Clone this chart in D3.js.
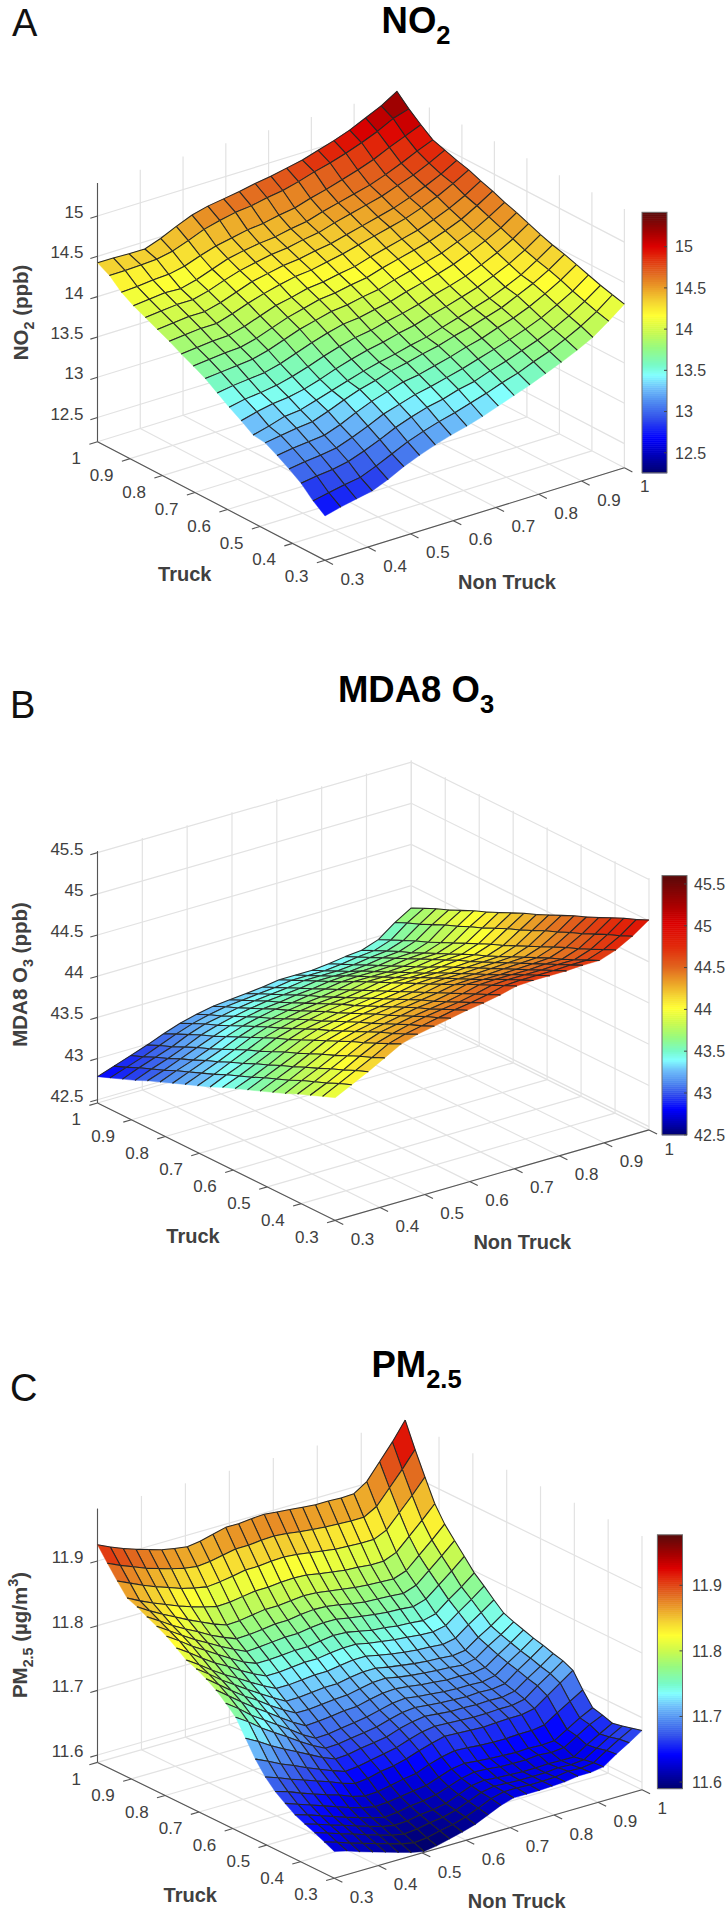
<!DOCTYPE html>
<html><head><meta charset="utf-8">
<script src="https://cdn.jsdelivr.net/npm/d3@7/dist/d3.min.js"></script>
<style>html,body{margin:0;padding:0;background:#fff}svg{display:block}text{font-family:"Liberation Sans",Arial,sans-serif}</style>
</head><body><svg id="c" width="728" height="1911"></svg>
<script>
// rows run Truck 0.3→1, columns run Non Truck 0.3→1
const no2Values=[
[12.75,12.80,12.84,12.88,12.96,13.06,13.14,13.21,13.27,13.32,13.38,13.45,13.52,13.59,13.67,13.75,13.84,13.94,14.08,14.23],
[12.86,12.90,12.94,12.97,13.05,13.14,13.23,13.30,13.36,13.41,13.47,13.53,13.60,13.66,13.74,13.81,13.90,14.00,14.12,14.27],
[13.00,13.03,13.05,13.09,13.16,13.24,13.33,13.40,13.46,13.50,13.56,13.60,13.67,13.73,13.80,13.87,13.95,14.05,14.17,14.31],
[13.10,13.13,13.15,13.18,13.25,13.33,13.42,13.48,13.54,13.58,13.63,13.68,13.74,13.80,13.86,13.93,14.01,14.11,14.22,14.36],
[13.19,13.22,13.24,13.26,13.33,13.42,13.50,13.56,13.62,13.65,13.70,13.75,13.81,13.86,13.93,13.99,14.07,14.17,14.28,14.41],
[13.27,13.30,13.33,13.35,13.42,13.50,13.57,13.62,13.68,13.72,13.77,13.81,13.87,13.92,13.98,14.04,14.13,14.22,14.33,14.46],
[13.29,13.34,13.40,13.42,13.48,13.54,13.60,13.66,13.71,13.75,13.80,13.84,13.90,13.96,14.02,14.08,14.16,14.25,14.37,14.50],
[13.39,13.44,13.48,13.50,13.54,13.60,13.67,13.73,13.78,13.82,13.87,13.91,13.97,14.02,14.08,14.14,14.22,14.31,14.42,14.55],
[13.48,13.52,13.54,13.57,13.62,13.68,13.75,13.81,13.86,13.89,13.94,13.98,14.03,14.09,14.14,14.20,14.28,14.37,14.48,14.61],
[13.58,13.61,13.63,13.65,13.70,13.77,13.84,13.90,13.95,13.97,14.01,14.05,14.11,14.16,14.21,14.27,14.35,14.44,14.54,14.67],
[13.68,13.70,13.72,13.74,13.79,13.86,13.93,13.98,14.03,14.05,14.09,14.12,14.18,14.23,14.28,14.33,14.41,14.49,14.60,14.72],
[13.76,13.78,13.80,13.81,13.86,13.93,14.00,14.05,14.10,14.12,14.16,14.19,14.25,14.30,14.35,14.40,14.47,14.55,14.66,14.78],
[13.83,13.85,13.87,13.88,13.93,14.00,14.07,14.11,14.16,14.18,14.22,14.25,14.31,14.36,14.41,14.46,14.53,14.61,14.71,14.83],
[13.91,13.93,13.95,13.95,14.01,14.08,14.14,14.19,14.23,14.25,14.29,14.33,14.38,14.43,14.48,14.53,14.60,14.68,14.78,14.89],
[13.98,14.00,14.02,14.02,14.07,14.14,14.21,14.25,14.29,14.31,14.35,14.38,14.43,14.48,14.53,14.58,14.65,14.73,14.82,14.93],
[14.05,14.07,14.09,14.09,14.14,14.21,14.27,14.31,14.35,14.37,14.41,14.44,14.50,14.55,14.60,14.65,14.72,14.79,14.88,14.98],
[14.12,14.14,14.16,14.15,14.20,14.27,14.34,14.38,14.41,14.43,14.47,14.50,14.56,14.61,14.66,14.71,14.78,14.86,14.95,15.03],
[14.21,14.22,14.24,14.25,14.29,14.36,14.42,14.46,14.50,14.52,14.56,14.59,14.65,14.70,14.76,14.82,14.89,14.98,15.06,15.14],
[14.34,14.34,14.35,14.36,14.40,14.47,14.55,14.60,14.64,14.66,14.70,14.73,14.78,14.84,14.89,14.95,15.02,15.10,15.20,15.26],
[14.42,14.42,14.41,14.41,14.48,14.57,14.65,14.70,14.73,14.76,14.80,14.83,14.87,14.91,14.97,15.03,15.10,15.19,15.28,15.40]];
const o3Values=[
[43.95,44.05,44.15,44.26,44.37,44.43,44.47,44.51,44.55,44.58,44.62,44.67,44.68,44.68,44.68,44.69,44.69,44.76,44.87,45.01],
[43.89,43.99,44.09,44.19,44.30,44.36,44.40,44.44,44.48,44.51,44.55,44.60,44.61,44.61,44.61,44.62,44.62,44.69,44.80,44.94],
[43.83,43.92,44.02,44.13,44.23,44.29,44.34,44.38,44.41,44.44,44.48,44.53,44.54,44.54,44.54,44.55,44.55,44.62,44.74,44.88],
[43.77,43.86,43.96,44.06,44.16,44.23,44.27,44.31,44.34,44.37,44.41,44.46,44.47,44.47,44.47,44.48,44.48,44.55,44.67,44.81],
[43.70,43.80,43.89,43.99,44.10,44.16,44.20,44.24,44.28,44.30,44.34,44.39,44.39,44.39,44.40,44.41,44.42,44.49,44.60,44.74],
[43.64,43.73,43.83,43.93,44.03,44.09,44.13,44.17,44.21,44.24,44.27,44.31,44.32,44.32,44.33,44.34,44.35,44.42,44.54,44.67],
[43.58,43.67,43.76,43.86,43.96,44.02,44.07,44.11,44.14,44.17,44.20,44.24,44.25,44.25,44.26,44.27,44.28,44.35,44.47,44.61],
[43.52,43.61,43.70,43.79,43.89,43.95,44.00,44.04,44.07,44.10,44.13,44.17,44.18,44.18,44.19,44.20,44.21,44.28,44.41,44.54],
[43.46,43.54,43.63,43.73,43.82,43.89,43.93,43.97,44.00,44.03,44.06,44.10,44.11,44.11,44.12,44.13,44.14,44.21,44.34,44.47],
[43.40,43.48,43.57,43.66,43.75,43.82,43.86,43.90,43.93,43.96,43.99,44.03,44.04,44.04,44.05,44.06,44.07,44.14,44.27,44.40],
[43.33,43.42,43.50,43.59,43.69,43.75,43.80,43.84,43.87,43.89,43.92,43.96,43.96,43.96,43.98,44.00,44.01,44.08,44.21,44.34],
[43.27,43.35,43.44,43.53,43.62,43.68,43.73,43.77,43.80,43.82,43.85,43.89,43.89,43.89,43.90,43.93,43.94,44.01,44.14,44.27],
[43.21,43.29,43.37,43.46,43.55,43.62,43.66,43.70,43.73,43.75,43.78,43.82,43.82,43.82,43.83,43.86,43.87,43.94,44.07,44.20],
[43.15,43.23,43.31,43.39,43.48,43.55,43.59,43.63,43.66,43.68,43.71,43.75,43.75,43.75,43.76,43.79,43.80,43.87,44.01,44.13],
[43.09,43.17,43.24,43.32,43.41,43.48,43.53,43.57,43.59,43.62,43.64,43.67,43.68,43.68,43.69,43.72,43.73,43.80,43.94,44.07],
[43.03,43.10,43.18,43.26,43.34,43.41,43.46,43.50,43.52,43.55,43.57,43.60,43.61,43.61,43.62,43.65,43.66,43.73,43.88,44.00],
[42.96,43.04,43.11,43.19,43.28,43.34,43.39,43.43,43.46,43.48,43.50,43.53,43.53,43.53,43.55,43.58,43.60,43.67,43.81,43.93],
[42.90,42.98,43.05,43.12,43.21,43.28,43.32,43.36,43.39,43.41,43.43,43.46,43.46,43.46,43.48,43.51,43.53,43.60,43.74,43.87],
[42.84,42.91,42.98,43.06,43.14,43.21,43.26,43.30,43.32,43.34,43.36,43.39,43.39,43.39,43.41,43.44,43.46,43.53,43.68,43.80],
[42.78,42.85,42.92,42.99,43.07,43.14,43.19,43.23,43.25,43.27,43.29,43.32,43.32,43.32,43.34,43.37,43.39,43.46,43.61,43.73]];
const pmValues=[
[11.630,11.625,11.618,11.612,11.606,11.600,11.594,11.590,11.593,11.598,11.603,11.609,11.618,11.627,11.633,11.633,11.633,11.634,11.635,11.638,11.638,11.641,11.655,11.667,11.680],
[11.637,11.631,11.624,11.618,11.612,11.606,11.600,11.596,11.598,11.603,11.607,11.613,11.621,11.630,11.635,11.635,11.634,11.634,11.635,11.638,11.637,11.640,11.653,11.665,11.676],
[11.644,11.638,11.631,11.625,11.618,11.612,11.606,11.602,11.604,11.608,11.611,11.616,11.624,11.632,11.636,11.635,11.634,11.634,11.634,11.636,11.635,11.637,11.649,11.661,11.672],
[11.650,11.644,11.637,11.631,11.624,11.618,11.612,11.608,11.609,11.613,11.615,11.619,11.627,11.635,11.638,11.636,11.635,11.634,11.634,11.635,11.634,11.634,11.647,11.658,11.669],
[11.657,11.651,11.644,11.637,11.630,11.624,11.618,11.613,11.615,11.619,11.621,11.625,11.632,11.639,11.643,11.642,11.640,11.639,11.639,11.641,11.639,11.641,11.653,11.665,11.674],
[11.667,11.660,11.653,11.646,11.639,11.632,11.626,11.622,11.623,11.626,11.629,11.632,11.639,11.646,11.649,11.647,11.645,11.644,11.643,11.644,11.643,11.644,11.656,11.668,11.678],
[11.678,11.672,11.664,11.657,11.650,11.644,11.636,11.631,11.632,11.636,11.640,11.643,11.651,11.657,11.661,11.660,11.658,11.657,11.657,11.658,11.658,11.661,11.674,11.686,11.698],
[11.693,11.686,11.678,11.671,11.664,11.657,11.649,11.643,11.645,11.650,11.653,11.658,11.665,11.671,11.676,11.675,11.674,11.673,11.674,11.675,11.675,11.679,11.693,11.707,11.721],
[11.713,11.704,11.694,11.686,11.677,11.669,11.661,11.654,11.656,11.660,11.664,11.668,11.675,11.681,11.684,11.683,11.682,11.681,11.681,11.682,11.682,11.686,11.701,11.714,11.728],
[11.738,11.727,11.715,11.704,11.694,11.684,11.674,11.666,11.667,11.671,11.674,11.677,11.684,11.689,11.692,11.690,11.688,11.688,11.687,11.688,11.687,11.691,11.705,11.718,11.732],
[11.763,11.750,11.735,11.722,11.710,11.697,11.685,11.675,11.676,11.679,11.682,11.685,11.691,11.696,11.698,11.696,11.694,11.693,11.692,11.693,11.692,11.695,11.710,11.723,11.737],
[11.777,11.763,11.747,11.734,11.721,11.708,11.694,11.683,11.684,11.687,11.690,11.693,11.698,11.703,11.705,11.702,11.700,11.698,11.697,11.697,11.696,11.700,11.714,11.727,11.741],
[11.790,11.775,11.760,11.746,11.733,11.719,11.706,11.695,11.696,11.698,11.701,11.702,11.707,11.711,11.712,11.710,11.707,11.705,11.703,11.703,11.702,11.705,11.719,11.732,11.746],
[11.800,11.785,11.770,11.756,11.744,11.730,11.718,11.707,11.707,11.709,11.711,11.712,11.716,11.720,11.721,11.717,11.714,11.712,11.710,11.709,11.707,11.711,11.725,11.737,11.751],
[11.808,11.794,11.779,11.766,11.753,11.741,11.729,11.718,11.718,11.720,11.722,11.722,11.726,11.729,11.729,11.725,11.722,11.719,11.717,11.716,11.714,11.717,11.731,11.743,11.757],
[11.814,11.801,11.787,11.774,11.763,11.751,11.740,11.730,11.730,11.732,11.734,11.734,11.737,11.740,11.740,11.736,11.732,11.729,11.727,11.726,11.724,11.728,11.743,11.756,11.770],
[11.825,11.812,11.798,11.785,11.774,11.762,11.751,11.742,11.742,11.744,11.746,11.746,11.749,11.751,11.751,11.747,11.744,11.741,11.739,11.737,11.736,11.740,11.755,11.769,11.784],
[11.836,11.823,11.809,11.797,11.785,11.773,11.762,11.754,11.754,11.755,11.757,11.757,11.760,11.763,11.762,11.758,11.754,11.752,11.749,11.748,11.746,11.751,11.767,11.781,11.797],
[11.844,11.831,11.818,11.806,11.795,11.784,11.774,11.765,11.766,11.768,11.770,11.770,11.773,11.775,11.775,11.771,11.768,11.765,11.763,11.762,11.760,11.766,11.782,11.798,11.815],
[11.851,11.839,11.826,11.815,11.805,11.794,11.785,11.777,11.778,11.780,11.783,11.783,11.786,11.788,11.787,11.784,11.780,11.777,11.776,11.775,11.773,11.780,11.797,11.814,11.832],
[11.859,11.847,11.836,11.826,11.816,11.807,11.798,11.791,11.792,11.795,11.798,11.798,11.800,11.802,11.801,11.798,11.795,11.792,11.790,11.789,11.788,11.795,11.813,11.831,11.850],
[11.865,11.855,11.846,11.838,11.830,11.823,11.817,11.812,11.813,11.816,11.819,11.819,11.821,11.822,11.821,11.817,11.814,11.811,11.810,11.808,11.808,11.816,11.835,11.854,11.874],
[11.884,11.875,11.866,11.858,11.851,11.844,11.839,11.835,11.837,11.840,11.844,11.844,11.846,11.847,11.845,11.842,11.839,11.836,11.835,11.834,11.834,11.843,11.864,11.885,11.908],
[11.904,11.895,11.887,11.879,11.873,11.867,11.862,11.859,11.861,11.865,11.869,11.869,11.871,11.872,11.870,11.867,11.865,11.863,11.862,11.861,11.861,11.872,11.895,11.918,11.943],
[11.925,11.916,11.908,11.901,11.895,11.889,11.885,11.882,11.885,11.890,11.895,11.895,11.897,11.898,11.896,11.894,11.892,11.890,11.890,11.889,11.890,11.903,11.928,11.953,11.981]];
const axisTicks=[0.3,0.4,0.5,0.6,0.7,0.8,0.9,1];
const no2Ticks=[12.5,13,13.5,14,14.5,15];
const o3Ticks=[42.5,43,43.5,44,44.5,45,45.5];
const pmTicks=[11.6,11.7,11.8,11.9];
const cmapPos=[0,.057,.134,.21,.274,.325,.376,.414,.48,.54,.605,.655,.71,.77,.83,.87,.92,1];
const cmapPosO3=[0,.04,.10,.16,.205,.25,.29,.325,.375,.43,.49,.535,.59,.65,.73,.817,.885,1];
const cmapCol=["#00006e","#0000aa","#0000ff","#3250eb","#508cf0","#6ebefa","#82ffff","#78fac8","#96fa82","#c8fa50","#ffff32","#f5d732","#eba028","#e1641e","#e1280a","#dc0000","#aa0000","#5a0a0a"];
const panels=[
{letter:"A",lx:12,ly:36,title:[["NO",0],["2",1]],tx:416,ty:33,vals:no2Values,zt:no2Ticks,cpos:cmapPos,L:[97.5,441.7],B:[325,560.3],R:[624.4,467.8],H:258.7,z:[12.2,15.41],
 bar:[642,667,212.3,472.8],barD:[12.257,15.417],barX:675,zlab:[["NO",0],["2",1],[" (ppb)",0]],zl:[28,312.4],trk:[184.8,574],non:[507,581.3]},
{letter:"B",lx:10,ly:718,title:[["MDA8 O",0],["3",1]],tx:416,ty:702,vals:o3Values,zt:o3Ticks,cpos:cmapPosO3,L:[97.5,1103],B:[335.2,1220.4],R:[649,1129.9],H:252,z:[42.46,45.52],
 bar:[662,687,875.6,1134.8],barD:[42.5,45.6],barX:694,zlab:[["MDA8 O",0],["3",1],[" (ppb)",0]],zl:[26.5,974.5],trk:[193,1235.4],non:[522.3,1242.2]},
{letter:"C",lx:10,ly:1401,title:[["PM",0],["2.5",1]],tx:416.5,ty:1377,vals:pmValues,zt:pmTicks,cpos:cmapPos,L:[97.5,1762.4],B:[334.3,1878.2],R:[642,1789.7],H:253.8,z:[11.5886,11.981],
 bar:[657.4,682.5,1534.8,1788.6],barD:[11.59,11.977],barX:692,zlab:[["PM",0],["2.5",1],[" (µg/m",0],["3",2],[")",0]],zl:[26.5,1635],trk:[190.3,1894.3],non:[516.7,1900.8]}];

const svg=d3.select("#c");
const INK="#404040",GRID="#e2e2e2";
function rich(sel,parts,size){
  let off=0;
  parts.forEach(([t,k])=>{
    const want=k===1?size*.3:k===2?-size*.4:0;
    const ts=sel.append("tspan").text(t).attr("dy",(want-off).toFixed(2));
    if(k)ts.attr("font-size",(size*.7).toFixed(1));
    off=want;
  });
}
panels.forEach(p=>{
  const cmap=d3.scaleLinear().domain(p.cpos).range(cmapCol).interpolate(d3.interpolateRgb).clamp(true);
  const g=svg.append("g");
  const nt=d3.scaleLinear().domain([.3,1]), tr=d3.scaleLinear().domain([.3,1]);
  const ntX=nt.copy().range([0,p.R[0]-p.B[0]]), ntY=nt.copy().range([0,p.R[1]-p.B[1]]);
  const trX=tr.copy().range([0,p.L[0]-p.B[0]]), trY=tr.copy().range([0,p.L[1]-p.B[1]]);
  const zS=d3.scaleLinear().domain(p.z).range([0,-p.H]);
  const proj=(a,b,c)=>[p.B[0]+ntX(a)+trX(b),p.B[1]+ntY(a)+trY(b)+zS(c)];
  const line=d3.line();
  const seg=(pts,col,w)=>g.append("path").attr("d",line(pts)).attr("fill","none").attr("stroke",col).attr("stroke-width",w);
  const [z0,z1]=p.z;
  // walls and floor
  axisTicks.forEach(v=>{
    seg([proj(v,1,z0),proj(v,1,z1)],GRID,1.2);
    seg([proj(1,v,z0),proj(1,v,z1)],GRID,1.2);
    seg([proj(v,.3,z0),proj(v,1,z0)],GRID,1.2);
    seg([proj(.3,v,z0),proj(1,v,z0)],GRID,1.2);
  });
  p.zt.forEach(v=>{
    seg([proj(.3,1,v),proj(1,1,v),proj(1,.3,v)],GRID,1.2);
  });
  // axes
  seg([proj(.3,1,z0),proj(.3,1,z1)],"#555",1.1);
  seg([proj(.3,1,z0),proj(.3,.3,z0),proj(1,.3,z0)],"#555",1.1);
  const lenNT=Math.hypot(p.R[0]-p.B[0],p.R[1]-p.B[1]),lenT=Math.hypot(p.L[0]-p.B[0],p.L[1]-p.B[1]);
  const uN=[(p.R[0]-p.B[0])/lenNT,(p.R[1]-p.B[1])/lenNT],uT=[(p.L[0]-p.B[0])/lenT,(p.L[1]-p.B[1])/lenT];
  axisTicks.forEach(v=>{
    const a=proj(.3,v,z0);
    seg([a,[a[0]-uN[0]*8.5,a[1]-uN[1]*8.5]],"#555",1.1);
    g.append("text").attr("x",a[0]-16.5).attr("y",a[1]+16).attr("dy",".36em").attr("text-anchor","end").attr("font-size",17).attr("fill",INK).text(v);
    const b=proj(v,.3,z0);
    seg([b,[b[0]-uT[0]*9,b[1]-uT[1]*9]],"#555",1.1);
    g.append("text").attr("x",b[0]+15.5).attr("y",b[1]+18.5).attr("dy",".36em").attr("font-size",17).attr("fill",INK).text(v);
  });
  p.zt.forEach(v=>{
    const a=proj(.3,1,v);
    seg([a,[a[0]-uN[0]*7.5,a[1]-uN[1]*7.5]],"#555",1.1);
    g.append("text").attr("x",83.5).attr("y",a[1]-4).attr("dy",".36em").attr("text-anchor","end").attr("font-size",17).attr("fill",INK).text(v);
  });
  // surface
  const n=p.vals.length,m=p.vals[0].length;
  const gi=d3.scaleLinear().domain([0,m-1]).range([.3,1]),gj=d3.scaleLinear().domain([0,n-1]).range([.3,1]);
  const P=(i,j)=>proj(gi(i),gj(j),p.vals[j][i]);
  const col=d3.scaleLinear().domain(p.barD).range([0,1]);
  const surf=g.append("g");
  for(let j=n-2;j>=0;j--)for(let i=m-2;i>=0;i--){
    const c=cmap(col(p.vals[j][i]));
    surf.append("path").attr("d",line([P(i,j),P(i+1,j),P(i+1,j+1),P(i,j+1)])+"Z").attr("fill",c).attr("stroke",c).attr("stroke-width",.4);
    const edges=[[P(i+1,j),P(i+1,j+1)],[P(i,j+1),P(i+1,j+1)]];
    if(j>0)edges.push([P(i,j),P(i+1,j)]);
    if(i>0)edges.push([P(i,j),P(i,j+1)]);
    surf.append("path").attr("d",edges.map(e=>line(e)).join("")).attr("fill","none").attr("stroke","#262626").attr("stroke-width",1.05);
  }
  // colour bar
  const [x0,x1,y0,y1]=p.bar;
  const by=d3.scaleLinear().domain(p.barD).range([y1,y0]);
  const lv=d3.range(128);
  g.append("g").selectAll("rect").data(lv).join("rect")
    .attr("x",x0).attr("width",x1-x0).attr("y",d=>y1-(d+1)/128*(y1-y0)).attr("height",(y1-y0)/128+.5).attr("fill",d=>cmap((d+.5)/128));
  g.append("rect").attr("x",x0).attr("y",y0).attr("width",x1-x0).attr("height",y1-y0).attr("fill","none").attr("stroke","#6e6e6e").attr("stroke-width",1);
  p.zt.forEach(v=>{
    seg([[x1-3,by(v)],[x1,by(v)]],"#444",1);
    g.append("text").attr("x",p.barX).attr("y",by(v)).attr("dy",".36em").attr("font-size",16).attr("fill",INK).text(v);
  });
  // text
  g.append("text").attr("x",p.lx).attr("y",p.ly).attr("font-size",38).attr("fill","#111").text(p.letter);
  const tt=g.append("text").attr("x",p.tx).attr("y",p.ty).attr("text-anchor","middle").attr("font-size",36.5).attr("font-weight","bold").attr("fill","#000");
  rich(tt,p.title,36.5);
  g.append("text").attr("x",p.trk[0]).attr("y",p.trk[1]).attr("dy",".36em").attr("text-anchor","middle").attr("font-size",20).attr("font-weight","bold").attr("fill",INK).text("Truck");
  g.append("text").attr("x",p.non[0]).attr("y",p.non[1]).attr("dy",".36em").attr("text-anchor","middle").attr("font-size",20).attr("font-weight","bold").attr("fill",INK).text("Non Truck");
  const zl=g.append("text").attr("transform",`translate(${p.zl[0]},${p.zl[1]}) rotate(-90)`).attr("text-anchor","middle").attr("font-size",20.5).attr("font-weight","bold").attr("fill",INK);
  rich(zl,p.zlab,20.5);
});
</script></body></html>
